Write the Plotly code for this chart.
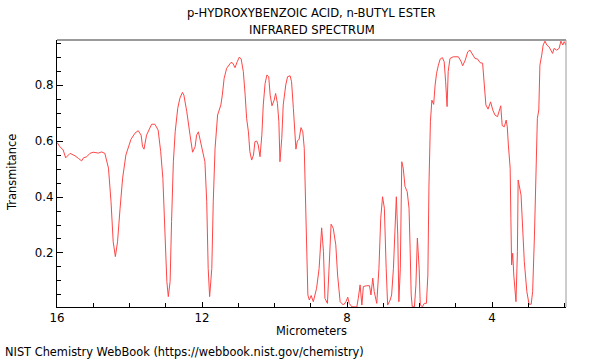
import plotly.graph_objects as go

wavelength_um = [
    16.00, 15.92, 15.83, 15.76, 15.64, 15.50, 15.41, 15.32, 15.27, 15.18,
    15.09, 15.00, 14.86, 14.77, 14.68, 14.58, 14.51, 14.45, 14.39, 14.33,
    14.26, 14.19, 14.10, 13.96, 13.85, 13.76, 13.68, 13.64, 13.60, 13.53,
    13.39, 13.30, 13.21, 13.14, 13.08, 13.02, 12.97, 12.93, 12.88, 12.84,
    12.79, 12.74, 12.67, 12.61, 12.54, 12.50, 12.42, 12.33, 12.26, 12.19,
    12.15, 12.10, 12.06, 11.99, 11.92, 11.87, 11.83, 11.79, 11.73, 11.69,
    11.64, 11.57, 11.48, 11.44, 11.39, 11.32, 11.20, 11.15, 11.09, 11.03,
    10.97, 10.92, 10.86, 10.81, 10.77, 10.72, 10.68, 10.63, 10.58, 10.54,
    10.49, 10.45, 10.40, 10.35, 10.31, 10.26, 10.21, 10.16, 10.12, 10.07,
    10.01, 9.97, 9.92, 9.88, 9.85, 9.80, 9.76, 9.69, 9.64, 9.57,
    9.53, 9.48, 9.43, 9.41, 9.37, 9.32, 9.27, 9.22, 9.18, 9.14,
    9.11, 9.08, 9.04, 8.99, 8.93, 8.84, 8.77, 8.70, 8.65, 8.61,
    8.54, 8.49, 8.44, 8.38, 8.31, 8.26, 8.19, 8.10, 8.03, 7.98,
    7.94, 7.87, 7.73, 7.69, 7.64, 7.59, 7.55, 7.46, 7.38, 7.34,
    7.29, 7.25, 7.18, 7.12, 7.07, 7.02, 6.97, 6.92, 6.88, 6.81,
    6.77, 6.72, 6.68, 6.64, 6.60, 6.57, 6.53, 6.49, 6.45, 6.40,
    6.34, 6.29, 6.26, 6.23, 6.20, 6.14, 6.10, 6.06, 6.01, 5.98,
    5.92, 5.87, 5.81, 5.77, 5.74, 5.70, 5.66, 5.61, 5.57, 5.53,
    5.48, 5.43, 5.37, 5.32, 5.28, 5.24, 5.21, 5.16, 5.07, 4.93,
    4.86, 4.81, 4.74, 4.67, 4.61, 4.55, 4.47, 4.40, 4.33, 4.26,
    4.21, 4.17, 4.11, 4.04, 3.98, 3.92, 3.85, 3.80, 3.76, 3.72,
    3.66, 3.61, 3.58, 3.55, 3.50, 3.48, 3.46, 3.43, 3.40, 3.34,
    3.30, 3.28, 3.24, 3.20, 3.16, 3.11, 3.04, 2.98, 2.92, 2.88,
    2.83, 2.79, 2.75, 2.71, 2.68, 2.63, 2.59, 2.54, 2.49, 2.43,
    2.37, 2.33, 2.29, 2.22, 2.15, 2.10, 2.05, 2.01, 1.96,
]

transmittance = [
    0.595, 0.580, 0.568, 0.540, 0.556, 0.547, 0.538, 0.529, 0.540, 0.544,
    0.556, 0.560, 0.557, 0.561, 0.556, 0.503, 0.383, 0.240, 0.187, 0.240,
    0.360, 0.467, 0.550, 0.606, 0.628, 0.637, 0.621, 0.580, 0.571, 0.621,
    0.660, 0.660, 0.639, 0.562, 0.467, 0.240, 0.098, 0.044, 0.098, 0.312,
    0.526, 0.633, 0.717, 0.753, 0.774, 0.764, 0.705, 0.621, 0.560, 0.580,
    0.621, 0.633, 0.610, 0.574, 0.526, 0.383, 0.145, 0.044, 0.145, 0.383,
    0.574, 0.693, 0.729, 0.764, 0.824, 0.860, 0.881, 0.878, 0.862, 0.883,
    0.900, 0.893, 0.848, 0.764, 0.681, 0.633, 0.562, 0.532, 0.550, 0.598,
    0.600, 0.586, 0.544, 0.621, 0.729, 0.806, 0.836, 0.830, 0.764, 0.726,
    0.746, 0.770, 0.735, 0.669, 0.526, 0.610, 0.729, 0.800, 0.830, 0.833,
    0.812, 0.717, 0.598, 0.571, 0.600, 0.607, 0.648, 0.633, 0.574, 0.383,
    0.145, 0.050, 0.032, 0.048, 0.026, 0.074, 0.145, 0.290, 0.205, 0.038,
    0.020, 0.169, 0.303, 0.288, 0.229, 0.121, 0.026, 0.014, 0.026, 0.042,
    0.020, 0.008, 0.007, 0.038, 0.086, 0.014, 0.080, 0.083, 0.083, 0.050,
    0.110, 0.062, 0.020, 0.145, 0.324, 0.401, 0.360, 0.145, 0.014, 0.032,
    0.050, 0.145, 0.312, 0.401, 0.264, 0.026, 0.145, 0.526, 0.503, 0.437,
    0.419, 0.360, 0.217, 0.050, 0.008, 0.008, 0.086, 0.253, 0.145, 0.014,
    0.008, 0.020, 0.020, 0.121, 0.443, 0.669, 0.746, 0.731, 0.800, 0.842,
    0.871, 0.893, 0.898, 0.883, 0.812, 0.723, 0.848, 0.895, 0.901, 0.901,
    0.886, 0.869, 0.889, 0.919, 0.925, 0.910, 0.895, 0.893, 0.880, 0.878,
    0.800, 0.729, 0.714, 0.740, 0.711, 0.693, 0.687, 0.711, 0.726, 0.655,
    0.651, 0.675, 0.651, 0.586, 0.503, 0.324, 0.157, 0.199, 0.121, 0.026,
    0.205, 0.461, 0.431, 0.407, 0.300, 0.169, 0.062, 0.017, 0.017, 0.062,
    0.264, 0.503, 0.681, 0.711, 0.871, 0.907, 0.943, 0.957, 0.943, 0.937,
    0.925, 0.913, 0.931, 0.925, 0.931, 0.957, 0.943, 0.955, 0.943,
]

x_tick_values = [16, 12, 8, 4]
x_tick_labels = ["16", "12", "8", "4"]
y_tick_values = [0.2, 0.4, 0.6, 0.8]
y_tick_labels = ["0.2", "0.4", "0.6", "0.8"]

FONT = "DejaVu Sans"
FS = 11.4

fig = go.Figure()
fig.add_trace(go.Scatter(
    x=wavelength_um, y=transmittance, mode="lines",
    line=dict(color="rgb(255,70,70)", width=1),
    hoverinfo="skip", showlegend=False,
))

fig.update_layout(
    width=600, height=360,
    margin=dict(l=57, r=34, t=40, b=53),
    paper_bgcolor="white", plot_bgcolor="white",
    font=dict(family=FONT, size=FS, color="black"),
    xaxis=dict(
        range=[16, 1.96], showgrid=False, zeroline=False,
        showline=True, linecolor="black", linewidth=1,
        ticks="inside", ticklen=5, tickcolor="black",
        tickvals=x_tick_values, ticktext=x_tick_labels,
        minor=dict(ticks="inside", ticklen=4, dtick=1, tick0=0, tickcolor="black", showgrid=False),
        tickfont=dict(family=FONT, size=FS + 0.4),
    ),
    yaxis=dict(
        range=[0.007, 0.961], showgrid=False, zeroline=False,
        showline=True, linecolor="black", linewidth=1,
        ticks="inside", ticklen=6, tickcolor="black",
        tickvals=y_tick_values, ticktext=y_tick_labels,
        minor=dict(ticks="inside", ticklen=4, dtick=0.05, tick0=0, tickcolor="black", showgrid=False),
        tickfont=dict(family=FONT, size=FS + 0.4),
    ),
    shapes=[
        dict(type="line", xref="paper", yref="paper", x0=0, x1=1, y0=1, y1=1,
             line=dict(color="#9a9a9a", width=2)),
        dict(type="line", xref="paper", yref="paper", x0=1, x1=1, y0=0, y1=1,
             line=dict(color="#9a9a9a", width=1)),
    ],
    annotations=[
        dict(text="p-HYDROXYBENZOIC ACID, n-BUTYL ESTER", xref="paper", yref="paper",
             x=0.5, y=1.101, xanchor="center", yanchor="middle", showarrow=False,
             font=dict(family=FONT, size=11.6)),
        dict(text="INFRARED SPECTRUM", xref="paper", yref="paper",
             x=0.5, y=1.0375, xanchor="center", yanchor="middle", showarrow=False,
             font=dict(family=FONT, size=11.6)),
        dict(text="Micrometers", xref="paper", yref="paper",
             x=0.5, y=-0.09, xanchor="center", yanchor="middle", showarrow=False,
             font=dict(family=FONT, size=FS)),
        dict(text="Transmitance", xref="paper", yref="paper", textangle=-90,
             x=-0.0884, y=0.502, xanchor="center", yanchor="middle", showarrow=False,
             font=dict(family=FONT, size=FS)),
        dict(text="NIST Chemistry WebBook (https://webbook.nist.gov/chemistry)",
             xref="paper", yref="paper", x=-0.1061, y=-0.1685,
             xanchor="left", yanchor="middle", showarrow=False,
             font=dict(family=FONT, size=FS)),
    ],
)

fig.write_html(
    "out.html",
    config={"displayModeBar": False},
    post_script="document.body.style.margin='0';document.body.style.overflow='hidden';",
)
